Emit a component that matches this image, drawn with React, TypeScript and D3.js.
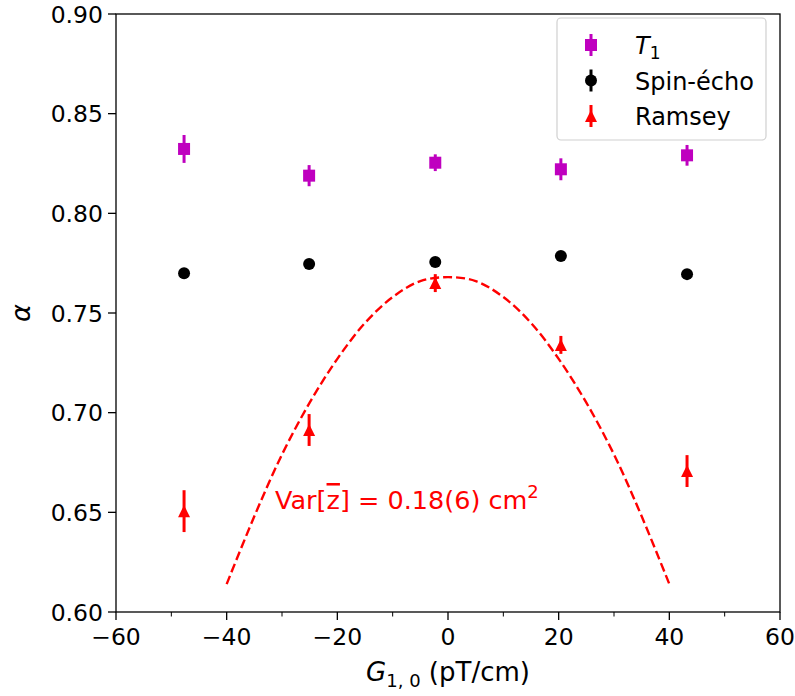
import React from 'react';
import * as d3 from 'd3';

// ---- data ----
const gradients = [-47.7, -25.1, -2.3, 20.4, 43.2];
const t1Alpha = [0.8323, 0.8189, 0.8254, 0.8221, 0.8291];
const t1Err = [0.0070, 0.0053, 0.0042, 0.0055, 0.0052];
const spinEchoAlpha = [0.7700, 0.7746, 0.7756, 0.7786, 0.7695];
const spinEchoErr = [0.0018, 0.0018, 0.0018, 0.0018, 0.0018];
const ramseyAlpha = [0.6506, 0.6913, 0.7650, 0.7340, 0.6707];
const ramseyErr = [0.0105, 0.0080, 0.0045, 0.0045, 0.0080];
const fitX = [-40, -35, -30, -25, -20, -15, -10, -5, 0, 5, 10, 15, 20, 25, 30, 35, 40];
const fitAlpha = [0.614, 0.648, 0.679, 0.705, 0.727, 0.745, 0.758, 0.766, 0.768, 0.766, 0.758, 0.745, 0.727, 0.705, 0.679, 0.648, 0.614];
const xTicks = [-60, -40, -20, 0, 20, 40, 60];
const xMinorTicks = [-50, -30, -10, 10, 30, 50];
const yTicks = [0.6, 0.65, 0.7, 0.75, 0.8, 0.85, 0.9];

const W = 795;
const H = 696;
const L = 116, R = 780, T = 14, B = 612;
const FONT = 'DejaVu Sans, sans-serif';
const MAGENTA = '#bf00bf';
const RED = '#ff0000';

const x = d3.scaleLinear().domain([-60, 60]).range([L, R]);
const y = d3.scaleLinear().domain([0.6, 0.9]).range([B, T]);

const fmtTick = (v: number) => (v < 0 ? '\u2212' + Math.abs(v) : String(v));

const MS = 12;

function Square({ cx, cy, color }: { cx: number; cy: number; color: string }) {
  return <rect x={cx - MS / 2} y={cy - MS / 2} width={MS} height={MS} fill={color} />;
}
function Circle({ cx, cy, color }: { cx: number; cy: number; color: string }) {
  return <circle cx={cx} cy={cy} r={MS / 2} fill={color} />;
}
function Tri({ cx, cy, color }: { cx: number; cy: number; color: string }) {
  const p = d3.path();
  p.moveTo(cx, cy - MS / 2);
  p.lineTo(cx - MS / 2, cy + MS / 2);
  p.lineTo(cx + MS / 2, cy + MS / 2);
  p.closePath();
  return <path d={p.toString()} fill={color} />;
}

type MarkerT = typeof Square;

function Series({ vals, errs, color, Marker }: { vals: number[]; errs: number[]; color: string; Marker: MarkerT }) {
  return (
    <g>
      {gradients.map((g, i) => (
        <g key={i}>
          <line x1={x(g)} x2={x(g)} y1={y(vals[i] - errs[i])} y2={y(vals[i] + errs[i])} stroke={color} strokeWidth={3} />
          <Marker cx={x(g)} cy={y(vals[i])} color={color} />
        </g>
      ))}
    </g>
  );
}

export default function App() {
  const fitLine = d3
    .line<number>()
    .x((_, i) => x(fitX[i]))
    .y((d) => y(d))
    .curve(d3.curveCatmullRom.alpha(0.5));

  const legendRows = [
    { Marker: Square as MarkerT, color: MAGENTA, label: 'T1' },
    { Marker: Circle as MarkerT, color: '#000', label: 'Spin-écho' },
    { Marker: Tri as MarkerT, color: RED, label: 'Ramsey' },
  ];
  const lgX = 557, lgY = 18, lgW = 209, lgH = 122;

  return (
    <div style={{ position: 'absolute', left: 0, top: 0 }}>
      <svg width={W} height={H} style={{ display: 'block', background: '#fff' }} fontFamily={FONT}>
        <rect x={0} y={0} width={W} height={H} fill="#fff" />
        {/* fit curve */}
        <path d={fitLine(fitAlpha) || ''} fill="none" stroke={RED} strokeWidth={2.4} strokeDasharray="9 4" />
        {/* series */}
        <Series vals={t1Alpha} errs={t1Err} color={MAGENTA} Marker={Square} />
        <Series vals={spinEchoAlpha} errs={spinEchoErr} color="#000" Marker={Circle} />
        <Series vals={ramseyAlpha} errs={ramseyErr} color={RED} Marker={Tri} />

        {/* annotation */}
        <text x={275} y={509} fill={RED} fontSize={25.5}>
          Var[<tspan textDecoration="overline">z</tspan>] = 0.18(6) cm
          <tspan fontSize={18} dy={-11}>2</tspan>
        </text>

        {/* frame */}
        <rect x={L} y={T} width={R - L} height={B - T} fill="none" stroke="#000" strokeWidth={1.3} />

        {/* x ticks */}
        {xTicks.map((t) => (
          <g key={'xt' + t}>
            <line x1={x(t)} x2={x(t)} y1={B} y2={B + 8} stroke="#000" strokeWidth={1.3} />
            <text x={x(t)} y={B + 33} textAnchor="middle" fontSize={23.5}>
              {fmtTick(t)}
            </text>
          </g>
        ))}
        {xMinorTicks.map((t) => (
          <line key={'xm' + t} x1={x(t)} x2={x(t)} y1={B} y2={B + 4.5} stroke="#000" strokeWidth={1} />
        ))}
        {/* y ticks */}
        {yTicks.map((t) => (
          <g key={'yt' + t}>
            <line x1={L - 8} x2={L} y1={y(t)} y2={y(t)} stroke="#000" strokeWidth={1.3} />
            <text x={L - 13} y={y(t) + 8.5} textAnchor="end" fontSize={23.5}>
              {t.toFixed(2)}
            </text>
          </g>
        ))}

        {/* axis labels */}
        <text x={(L + R) / 2} y={681} textAnchor="middle" fontSize={26}>
          <tspan fontStyle="italic">G</tspan>
          <tspan fontSize={18} dy={6}>1, 0</tspan>
          <tspan dy={-6}> (pT/cm)</tspan>
        </text>
        <text transform={`translate(30, ${(T + B) / 2}) rotate(-90)`} textAnchor="middle" fontSize={27} fontStyle="italic">
          α
        </text>

        {/* legend */}
        <rect x={lgX} y={lgY} width={lgW} height={lgH} rx={4} fill="#fff" fillOpacity={0.8} stroke="#d0d0d0" strokeWidth={1.2} />
        {legendRows.map((r, i) => {
          const cy = 45 + i * 35.5;
          const cx = 591;
          const M = r.Marker;
          return (
            <g key={r.label}>
              <line x1={cx} x2={cx} y1={cy - 11} y2={cy + 11} stroke={r.color} strokeWidth={3} />
              <M cx={cx} cy={cy} color={r.color} />
              {r.label === 'T1' ? (
                <text x={635} y={cy + 9} fontSize={24}>
                  <tspan fontStyle="italic">T</tspan>
                  <tspan fontSize={17} dy={5}>1</tspan>
                </text>
              ) : (
                <text x={635} y={cy + 9} fontSize={24}>
                  {r.label}
                </text>
              )}
            </g>
          );
        })}
      </svg>
    </div>
  );
}
